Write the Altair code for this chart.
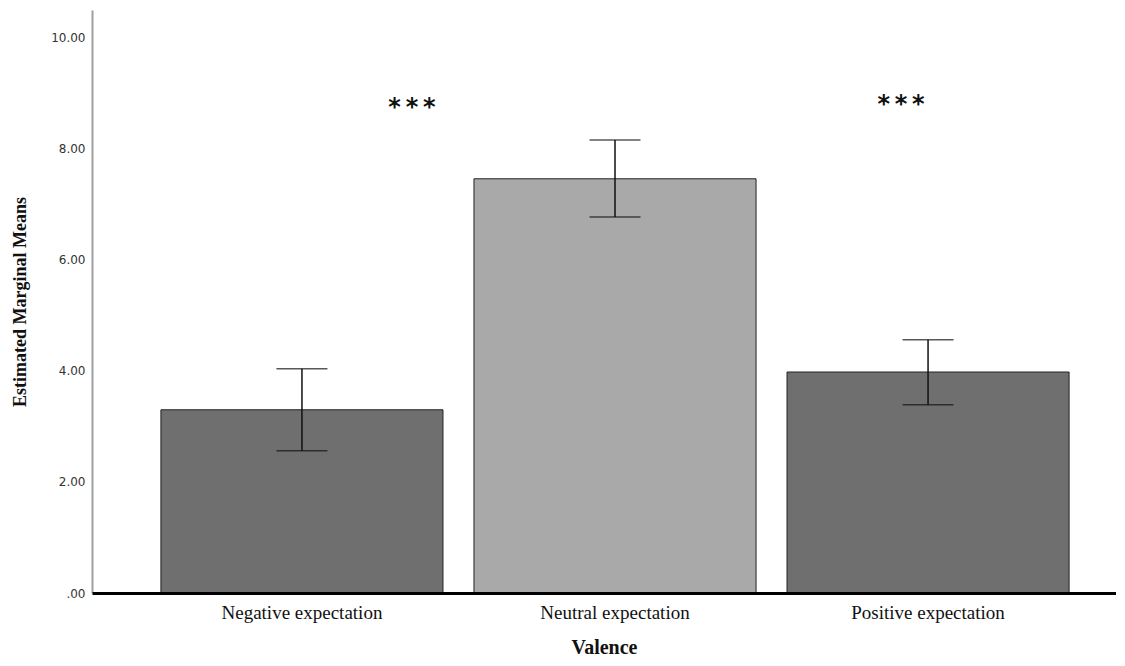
import altair as alt
import pandas as pd

categories = ["Negative expectation", "Neutral expectation", "Positive expectation"]
means = [3.30, 7.46, 3.98]
lower = [2.56, 6.77, 3.39]
upper = [4.04, 8.16, 4.56]
bar_colors = ["#6f6f6f", "#a9a9a9", "#6f6f6f"]
y_ticks = [0, 2, 4, 6, 8, 10]
sig_labels = ["*\u2009*\u2009*", "*\u2009*\u2009*"]
sig_categories = ["Negative expectation", "Positive expectation"]
sig_y = [8.85, 8.9]

df = pd.DataFrame({"Valence": categories, "mean": means, "lo": lower, "hi": upper, "color": bar_colors})
sig = pd.DataFrame({"Valence": sig_categories, "label": sig_labels, "y": sig_y})

xscale = alt.Scale(domain=categories, paddingInner=0.099, paddingOuter=0.185, align=0.595)
yscale = alt.Scale(domain=[0, 10.5], nice=False, zero=True)

x = alt.X("Valence:N", scale=xscale, sort=categories,
          axis=alt.Axis(title="Valence", labelAngle=0, ticks=False, grid=False,
                        domainColor="#000000", domainWidth=3, labelPadding=10,
                        labelFont="Liberation Serif", labelFontSize=19, labelColor="#111111",
                        titleFont="Liberation Serif", titleFontSize=20, titleFontWeight="bold",
                        titleColor="#111111", titlePadding=15, zindex=2))
y = alt.Y("mean:Q", scale=yscale,
          axis=alt.Axis(title="Estimated Marginal Means", values=y_ticks, ticks=False, grid=False,
                        domainColor="#a0a0a0", domainWidth=2, labelPadding=7,
                        labelExpr="datum.value == 0 ? '.00' : format(datum.value, '.2f')",
                        labelFont="DejaVu Sans", labelFontSize=12, labelColor="#333333",
                        titleFont="Liberation Serif", titleFontSize=18, titleFontWeight="bold",
                        titleColor="#111111", titlePadding=21))

bars = alt.Chart(df).mark_bar(stroke="#222222", strokeWidth=1).encode(
    x=x, y=y, color=alt.Color("color:N", scale=None))

rules = alt.Chart(df).mark_rule(color="#111111", strokeWidth=1.5).encode(
    x=alt.X("Valence:N", scale=xscale, sort=categories),
    y=alt.Y("lo:Q", scale=yscale), y2="hi:Q")

caps_lo = alt.Chart(df).mark_tick(color="#111111", thickness=1.5, size=51, orient="horizontal").encode(
    x=alt.X("Valence:N", scale=xscale, sort=categories), y=alt.Y("lo:Q", scale=yscale))
caps_hi = alt.Chart(df).mark_tick(color="#111111", thickness=1.5, size=51, orient="horizontal").encode(
    x=alt.X("Valence:N", scale=xscale, sort=categories), y=alt.Y("hi:Q", scale=yscale))

sig_neg = alt.Chart(sig.iloc[[0]]).mark_text(font="DejaVu Sans", fontSize=24, fontWeight="bold",
                                           color="#111111", dx=110, dy=6).encode(
    x=alt.X("Valence:N", scale=xscale, sort=categories), y=alt.Y("y:Q", scale=yscale), text="label:N")
sig_pos = alt.Chart(sig.iloc[[1]]).mark_text(font="DejaVu Sans", fontSize=24, fontWeight="bold",
                                           color="#111111", dx=-27, dy=6).encode(
    x=alt.X("Valence:N", scale=xscale, sort=categories), y=alt.Y("y:Q", scale=yscale), text="label:N")

chart = alt.layer(bars, rules, caps_lo, caps_hi, sig_neg, sig_pos).properties(
    width=1024, height=583,
    padding={"left": 3, "top": 2, "right": 0, "bottom": 0},
    background="#ffffff",
).configure_view(stroke=None)

chart.save("out.html", embed_options={"renderer": "svg", "actions": False})
